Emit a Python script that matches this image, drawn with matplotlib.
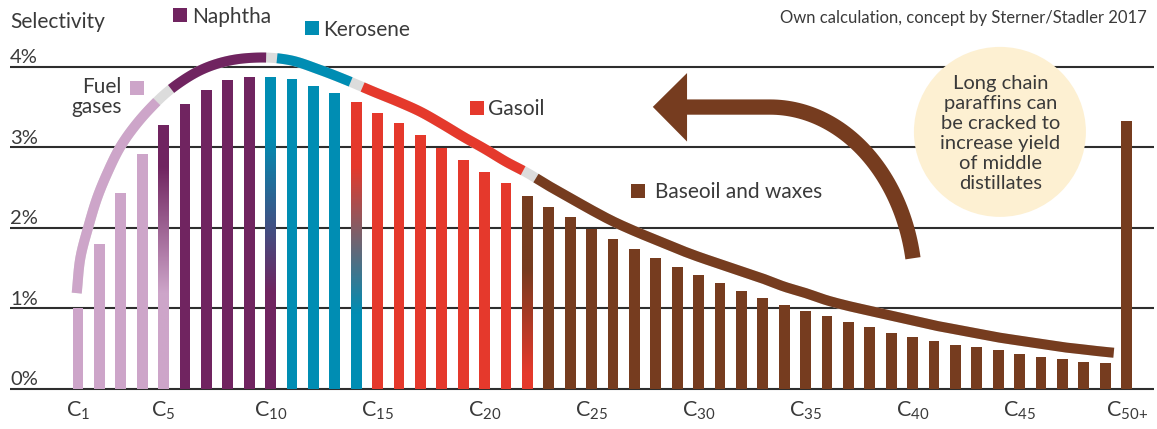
"""Carbon number selectivity of a Fischer-Tropsch product, with product cuts."""

import numpy as np
import matplotlib
matplotlib.use("Agg")
import matplotlib.pyplot as plt
from matplotlib.colors import to_rgb
from matplotlib.patches import Ellipse, Polygon

plt.rcParams["font.family"] = ["Lato", "DejaVu Sans"]
plt.rcParams["mathtext.default"] = "regular"

# ---------------------------------------------------------------------------
# Data
# ---------------------------------------------------------------------------
carbon = [f"C{n}" for n in range(1, 50)] + ["C50+"]
selectivity = [1.00, 1.80, 2.43, 2.92, 3.27, 3.53, 3.71, 3.83, 3.87, 3.87,
               3.84, 3.76, 3.67, 3.56, 3.42, 3.30, 3.15, 2.99, 2.84, 2.69,
               2.56, 2.40, 2.26, 2.13, 1.99, 1.86, 1.74, 1.62, 1.51, 1.41,
               1.31, 1.22, 1.13, 1.04, 0.97, 0.91, 0.83, 0.77, 0.70, 0.65,
               0.60, 0.55, 0.52, 0.48, 0.44, 0.40, 0.37, 0.34, 0.32, 3.33]
cut = (["Fuel gases"] * 4 + ["Naphtha"] * 5 + ["Kerosene"] * 4
       + ["Gasoil"] * 8 + ["Baseoil and waxes"] * 29)

# bars that fade from the previous cut (bottom) into their own cut (top)
blend_bars = {4: (1.19, 2.76), 9: (1.20, 3.13), 13: (0.94, 2.76), 21: (0.20, 1.50)}

# envelope curve above the bars
curve_x = [-0.06, 0.12, 0.48, 0.92, 1.37, 1.99, 2.77, 3.44, 4.02, 4.69,
           5.93, 7.18, 8.2, 9.0, 9.9, 11.3, 12.56, 13.8, 15, 16,
           17, 18, 19, 20, 21, 22, 23, 24, 25, 26,
           27, 28, 29, 30, 31, 32, 33, 34, 35, 36,
           37, 38, 39, 40, 41, 42, 43, 44, 45, 46,
           47, 48, 48.4]
curve_y = [1.19, 1.64, 2.01, 2.39, 2.68, 3.01, 3.30, 3.50, 3.65, 3.79,
           3.98, 4.08, 4.11, 4.11, 4.08, 3.96, 3.83, 3.69, 3.56, 3.44,
           3.29, 3.13, 2.98, 2.82, 2.68, 2.52, 2.37, 2.22, 2.08, 1.96,
           1.85, 1.74, 1.64, 1.55, 1.46, 1.37, 1.27, 1.19, 1.10, 1.03,
           0.97, 0.91, 0.85, 0.79, 0.74, 0.69, 0.64, 0.60, 0.56, 0.52,
           0.49, 0.46, 0.45]
curve_segments = [("Fuel gases", -0.06, 3.68), ("Naphtha", 4.35, 8.79),
                  ("Kerosene", 9.30, 12.74), ("Gasoil", 13.30, 20.80),
                  ("Baseoil and waxes", 21.40, 48.40)]

y_ticks = [0, 1, 2, 3, 4]
x_tick_idx = [0, 4, 9, 14, 19, 24, 29, 34, 39, 44, 49]

COLORS = {
    "Fuel gases": "#cda5c9",
    "Naphtha": "#702460",
    "Kerosene": "#008db3",
    "Gasoil": "#e5392c",
    "Baseoil and waxes": "#763c1f",
}
PREV_CUT = {"Naphtha": "Fuel gases", "Kerosene": "Naphtha",
            "Gasoil": "Kerosene", "Baseoil and waxes": "Gasoil"}
GAP = "#dcdcdc"
TEXT = "#3a3a3a"

# pixel layout of the reference: C1 at x=78px, 21.4px per bar, 0% at y=389px, 80.6px per %
W, H = 1157, 429
X0, DX, Y0, DY = 78, 21.4, 389, 80.6


def smooth_path(xs, ys, per_step=16):
    """Parametric cubic Hermite stroke through the read points (chord length in pixels)."""
    xs, ys = np.asarray(xs, float), np.asarray(ys, float)
    u, v = xs * DX, ys * DY
    s = np.concatenate([[0], np.cumsum(np.hypot(np.diff(u), np.diff(v)))])
    mu, mv = np.gradient(u, s), np.gradient(v, s)
    pu, pv = [], []
    for i in range(len(s) - 1):
        h = s[i + 1] - s[i]
        t = np.linspace(0, 1, per_step, endpoint=False)
        h00 = 2 * t**3 - 3 * t**2 + 1
        h10 = t**3 - 2 * t**2 + t
        h01 = -2 * t**3 + 3 * t**2
        h11 = t**3 - t**2
        pu.append(h00 * u[i] + h10 * h * mu[i] + h01 * u[i + 1] + h11 * h * mu[i + 1])
        pv.append(h00 * v[i] + h10 * h * mv[i] + h01 * v[i + 1] + h11 * h * mv[i + 1])
    pu.append([u[-1]])
    pv.append([v[-1]])
    return np.concatenate(pu) / DX, np.concatenate(pv) / DY


fig = plt.figure(figsize=(W / 100, H / 100), dpi=100)
ax = fig.add_axes([0, 0, 1, 1])
ax.axis("off")
xmin, xmax = -X0 / DX, (W - X0) / DX
ymin, ymax = (Y0 - H) / DY, Y0 / DY

# ---- grid lines and y labels ---------------------------------------------
gx0, gx1 = (10 - X0) / DX, (1154 - X0) / DX
ax.hlines(y_ticks, gx0, gx1, color="#2e2e2e", lw=1.5, zorder=1)
for v in y_ticks:
    ax.text(gx0, v + 0.045, f"{v}%", ha="left", va="baseline", fontsize=14.5, color=TEXT)
ax.text(gx0, 4.483, "Selectivity", ha="left", va="baseline", fontsize=15, color=TEXT)

# ---- bars ----------------------------------------------------------------
x = np.arange(len(selectivity))
bars = ax.bar(x, selectivity, width=0.5, color=[COLORS[c] for c in cut], zorder=3)
for i, (lo, hi) in blend_bars.items():
    top = np.array(to_rgb(COLORS[cut[i]]))
    bottom = np.array(to_rgb(COLORS[PREV_CUT[cut[i]]]))
    v = np.linspace(0, selectivity[i], 200)
    t = np.clip((v - lo) / (hi - lo), 0, 1)[:, None]
    img = ((1 - t) * bottom + t * top)[:, None, :]
    bars[i].set_facecolor("none")
    im = ax.imshow(img, origin="lower", aspect="auto", zorder=3,
                   extent=[i - 0.25, i + 0.25, 0, selectivity[i]])
    im.set_clip_path(bars[i])

# ---- envelope curve ------------------------------------------------------
sx_c, sy_c = smooth_path(curve_x, curve_y)
ax.plot(sx_c, sy_c, color=GAP, lw=7.2, solid_capstyle="butt", zorder=4)
for name, a, b in curve_segments:
    keep = (sx_c > a) & (sx_c < b)
    xs = np.concatenate([[a], sx_c[keep], [b]])
    ys = np.concatenate([[np.interp(a, sx_c, sy_c)], sy_c[keep], [np.interp(b, sx_c, sy_c)]])
    ax.plot(xs, ys, color=COLORS[name], lw=7.2, solid_capstyle="butt", zorder=5)

# ---- x labels --------------------------------------------------------------
for i in x_tick_idx:
    ax.text(i, -0.344, f"C$_{{{carbon[i][1:].replace('+', '{+}')}}}$",
            ha="center", va="baseline", fontsize=15.5, color=TEXT)

# ---- cut labels ------------------------------------------------------------
def key(xc, yc, name):
    ax.plot([xc], [yc], marker="s", ms=10, color=COLORS[name], mew=0, zorder=6)

LBL = 15
key(4.78, 4.634, "Naphtha")
ax.text(5.33, 4.545, "Naphtha", fontsize=LBL, color=TEXT, va="baseline")
key(10.92, 4.475, "Kerosene")
ax.text(11.45, 4.38, "Kerosene", fontsize=LBL, color=TEXT, va="baseline")
key(2.76, 3.74, "Fuel gases")
ax.text(2.04, 3.67, "Fuel", fontsize=LBL, color=TEXT, ha="right", va="baseline")
ax.text(2.04, 3.42, "gases", fontsize=LBL, color=TEXT, ha="right", va="baseline")
key(18.63, 3.49, "Gasoil")
ax.text(19.17, 3.40, "Gasoil", fontsize=LBL, color=TEXT, va="baseline")
key(26.18, 2.459, "Baseoil and waxes")
ax.text(26.96, 2.366, "Baseoil and waxes", fontsize=LBL, color=TEXT, va="baseline")

ax.text(49.95, 4.537, "Own calculation, concept by Sterner/Stadler 2017",
        fontsize=12, color=TEXT, ha="right", va="baseline")

# ---- cracking arrow ------------------------------------------------------
brown = COLORS["Baseoil and waxes"]
theta = np.radians(np.linspace(0, 80, 60))
cx, cy, rx, ry = 32.34, 1.228, 6.78, 2.27
ax_x = np.concatenate([[28.3], cx + rx * np.sin(theta)])
ax_y = np.concatenate([[cy + ry], cy + ry * np.cos(theta)])
ax.plot(ax_x, ax_y, color=brown, lw=11, solid_capstyle="butt", zorder=6)
ax.add_patch(Polygon([(26.86, 3.50), (28.46, 3.92), (28.46, 3.07)],
                     closed=True, color=brown, lw=0, zorder=6))

# ---- note bubble -----------------------------------------------------------
ax.add_patch(Ellipse((43.08, 3.19), 172 / DX, 170 / DY, facecolor="#fdf0d2",
                     edgecolor="none", zorder=2))
ax.text(43.1, 3.17, "Long chain\nparaffins can\nbe cracked to\nincrease yield\nof middle\ndistillates",
        ha="center", va="center", fontsize=14.5, color=TEXT, linespacing=1.22, zorder=7)

ax.set_xlim(xmin, xmax)
ax.set_ylim(ymin, ymax)
fig.savefig("out.png", dpi=100)
